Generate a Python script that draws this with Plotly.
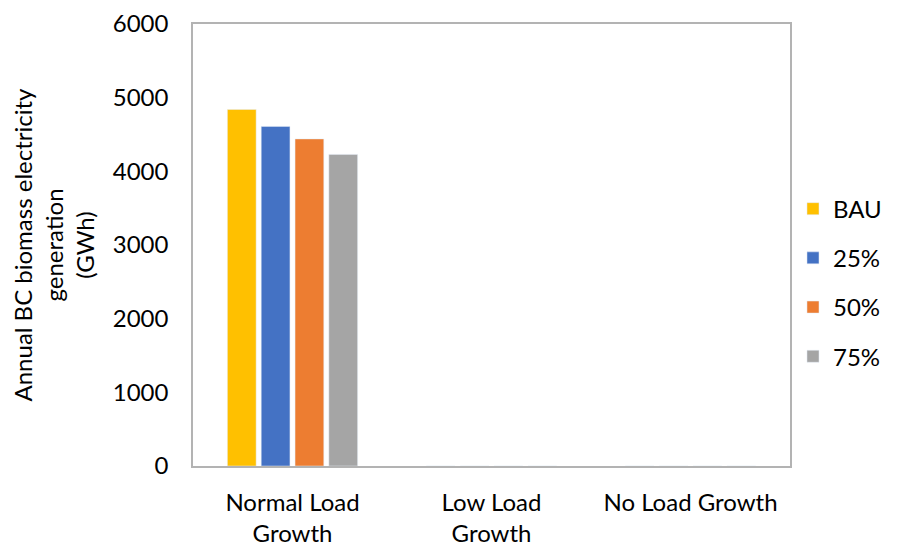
import plotly.graph_objects as go

# Data
categories = ["Normal Load<br>Growth", "Low Load<br>Growth", "No Load Growth"]
series_names = ["BAU", "25%", "50%", "75%"]
bau = [4840, 0, 0]
pct25 = [4610, 0, 0]
pct50 = [4440, 0, 0]
pct75 = [4230, 0, 0]
colors = ["#FFC000", "#4472C4", "#ED7D31", "#A5A5A5"]

fig = go.Figure()

for name, vals, col in zip(series_names, [bau, pct25, pct50, pct75], colors):
    fig.add_trace(go.Bar(
        x=categories,
        y=vals,
        name=name,
        marker_color=col,
        legendgroup=name,
    ))

font = dict(family="Lato, 'Open Sans', sans-serif", size=24, color="#000000")

# page has an 8px body margin, so shift the plot up/left to compensate
fig.update_layout(
    width=904,
    height=546,
    margin=dict(l=185, r=122, t=16, b=88, autoexpand=False),
    paper_bgcolor="white",
    plot_bgcolor="white",
    font=font,
    barmode="group",
    bargap=0.32,
    bargroupgap=0.15,
    legend=dict(
        x=1.005, y=0.415, xanchor="left", yanchor="middle",
        font=font,
        tracegroupgap=15,
        itemwidth=30,
    ),
    xaxis=dict(
        showline=True, mirror=True, linecolor="#b3b3b3", linewidth=1.5,
        ticks="", tickfont=font, ticklabelstandoff=14,
    ),
    yaxis=dict(
        range=[0, 6000], dtick=1000,
        showline=True, mirror=True, linecolor="#b3b3b3", linewidth=1.5,
        showgrid=False, zeroline=False,
        ticks="", tickfont=font, ticklabelstandoff=18,
        title=dict(
            text="Annual BC biomass electricity<br>generation<br>(GWh)",
            font=font, standoff=20,
        ),
    ),
)

fig.write_html("out.html")
